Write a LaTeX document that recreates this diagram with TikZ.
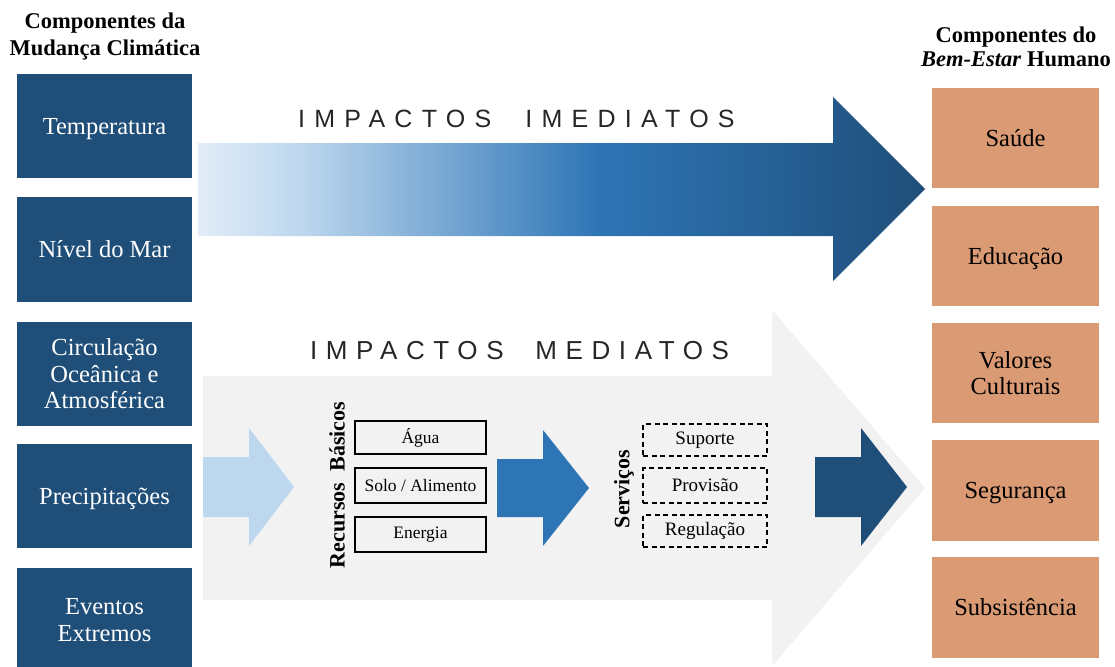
\documentclass[tikz,border=0pt]{standalone}
\usepackage{fontspec}
\setmainfont{Liberation Serif}
\newfontfamily\titlefontA[LetterSpace=37]{Liberation Sans}
\newfontfamily\titlefontB[LetterSpace=33]{Liberation Sans}
\definecolor{dblue}{HTML}{1F4E79}
\definecolor{mblue}{HTML}{2E75B6}
\definecolor{lblue}{HTML}{BDD7EE}
\definecolor{vlblue}{HTML}{E2EDF8}
\definecolor{lgray}{HTML}{F2F2F2}
\definecolor{orng}{HTML}{DA9A73}
\pgfdeclarehorizontalshading{imedgrad}{100bp}{color(0bp)=(vlblue); color(25bp)=(vlblue); color(32bp)=(lblue); color(52.5bp)=(mblue); color(75bp)=(dblue); color(100bp)=(dblue)}
\tikzset{
  climbox/.style={fill=dblue, text=white, minimum width=175pt, minimum height=104pt, inner sep=0pt, align=center, font=\fontsize{24.5}{26.5}\selectfont},
  wellbox/.style={fill=orng, text=black, minimum width=167pt, minimum height=100pt, inner sep=0pt, align=center, font=\fontsize{24.5}{26.5}\selectfont},
  oneline/.style={text height=16pt, text depth=0pt},
  resbox/.style={draw=black, line width=1.3pt, minimum width=131pt, inner sep=0pt, font=\fontsize{17.5}{20}\selectfont},
  servbox/.style={draw=black, line width=1.2pt, dash pattern=on 5pt off 3.5pt, minimum width=124pt, inner sep=0pt, font=\fontsize{19}{21}\selectfont},
  headtxt/.style={anchor=base, inner sep=0pt, font=\bfseries\fontsize{22.5}{27}\selectfont},
  sidetxt/.style={rotate=90, inner sep=0pt, font=\bfseries\fontsize{22}{24}\selectfont},
}
\begin{document}
\begin{tikzpicture}[x=1pt, y=-1pt]
\useasboundingbox (0,0) rectangle (1115,666);
% headings
\node[headtxt] (hl1) at (105,29) {Componentes da};
\node[headtxt] (hl2) at (105,56) {Mudança Climática};
\node[headtxt] (hr1) at (1016,43) {Componentes do};
\node[headtxt] (hr2) at (1016,67) {\textit{Bem-Estar} Humano};
% big arrows
\path[shading=imedgrad] (198,143) -- (833,143) -- (833,97) -- (925,189) -- (833,281) -- (833,236) -- (198,236) -- cycle;
\fill[lgray] (203,376) -- (772,376) -- (772,310) -- (925,488) -- (772,666) -- (772,600) -- (203,600) -- cycle;
\node[anchor=base west, inner sep=0pt, text=black!85, font=\titlefontA\fontsize{25}{25}\selectfont] (t1) at (298,128) {IMPACTOS\hspace{18pt} IMEDIATOS};
\node[anchor=base west, inner sep=0pt, text=black!85, font=\titlefontB\fontsize{26}{26}\selectfont] (t2) at (310,359) {IMPACTOS\hspace{16pt} MEDIATOS};
% small arrows
\fill[lblue] (203,457) -- (249,457) -- (249,428) -- (294,487) -- (249,546) -- (249,517) -- (203,517) -- cycle;
\fill[mblue] (497,459) -- (543,459) -- (543,430) -- (589,488) -- (543,546) -- (543,517) -- (497,517) -- cycle;
\fill[dblue] (815,457) -- (861,457) -- (861,428) -- (907,487) -- (861,546) -- (861,517) -- (815,517) -- cycle;
% left column
\node[climbox, oneline] (temp) at (104.5,126) {Temperatura};
\node[climbox, oneline, minimum height=105pt] (nivel) at (104.5,249.5) {Nível do Mar};
\node[climbox] (circ) at (104.5,374) {Circulação\\Oceânica e\\Atmosférica};
\node[climbox, oneline] (prec) at (104.5,496) {Precipitações};
\node[climbox] (event) at (104.5,620) {Eventos\\Extremos};
% right column
\node[wellbox, oneline] (saude) at (1015.5,138) {Saúde};
\node[wellbox, oneline] (educ) at (1015.5,256) {Educação};
\node[wellbox] (valor) at (1015.5,373) {Valores\\Culturais};
\node[wellbox, oneline, minimum height=101pt] (segur) at (1015.5,490.5) {Segurança};
\node[wellbox, oneline, minimum height=101pt] (subs) at (1015.5,607.5) {Subsistência};
% resources
\node[sidetxt] (rec) at (337,485) {Recursos\ \ Básicos};
\node[resbox, minimum height=33pt] (agua) at (420.5,437.5) {Água};
\node[resbox, minimum height=35pt] (solo) at (420.5,485.5) {Solo / Alimento};
\node[resbox, minimum height=35pt] (ener) at (420.5,534.5) {Energia};
% services
\node[sidetxt] (serv) at (624,489) {Serviços};
\node[servbox, minimum height=32pt] (sup) at (705,440) {Suporte};
\node[servbox, minimum height=35pt] (prov) at (705,485.5) {Provisão};
\node[servbox, minimum height=32pt] (reg) at (705,531) {Regulação};
\end{tikzpicture}
\end{document}
